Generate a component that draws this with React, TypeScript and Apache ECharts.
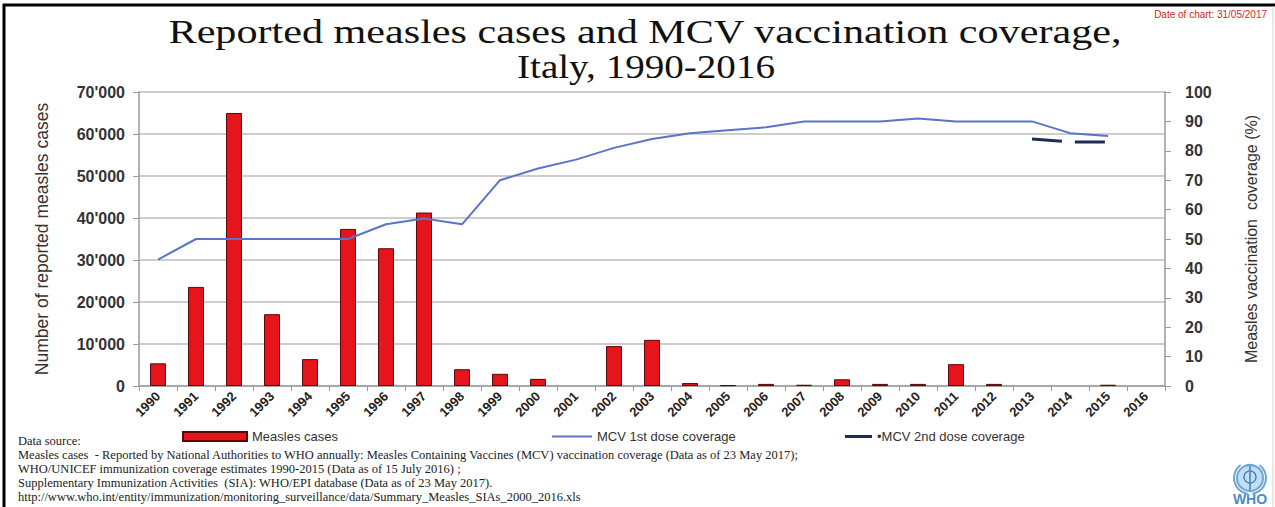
import React, { useEffect, useRef } from "react";
import * as echarts from "echarts";

const years = ["1990","1991","1992","1993","1994","1995","1996","1997","1998","1999","2000","2001","2002","2003","2004","2005","2006","2007","2008","2009","2010","2011","2012","2013","2014","2015","2016"];
const measlesCases = [5400, 23600, 65000, 17100, 6400, 37400, 32800, 41300, 4000, 2900, 1700, null, 9500, 11000, 700, 200, 500, 300, 1600, 500, 500, 5200, 500, null, null, 300, null];
const mcv1 = [43, 50, 50, 50, 50, 50, 55, 57, 55, 70, 74, 77, 81, 84, 86, 87, 88, 90, 90, 90, 91, 90, 90, 90, 86, 85, null];
const mcv2 = [null, null, null, null, null, null, null, null, null, null, null, null, null, null, null, null, null, null, null, null, null, null, null, 84, 83, 83, null];
const casesTicks = { min: 0, max: 70000, interval: 10000 };
const coverageTicks = { min: 0, max: 100, interval: 10 };
const titleLines = ["Reported measles cases and MCV vaccination coverage,", "Italy, 1990-2016"];
const sourceLines = [
  "Data source:",
  "Measles cases  - Reported by National Authorities to WHO annually: Measles Containing Vaccines (MCV) vaccination coverage (Data as of 23 May 2017);",
  "WHO/UNICEF immunization coverage estimates 1990-2015 (Data as of 15 July 2016) ;",
  "Supplementary Immunization Activities  (SIA): WHO/EPI database (Data as of 23 May 2017).",
  "http://www.who.int/entity/immunization/monitoring_surveillance/data/Summary_Measles_SIAs_2000_2016.xls",
];

const fmtThousands = (v: number) => {
  if (v === 0) return "0";
  const s = String(Math.round(v));
  return s.replace(/\B(?=(\d{3})+(?!\d))/g, "'");
};

export default function App() {
  const ref = useRef<HTMLDivElement>(null);
  useEffect(() => {
    if (!ref.current) return;
    const chart = echarts.init(ref.current, undefined, { renderer: "svg" });
    const sans = "Liberation Sans, Arial, sans-serif";
    const serif = "Liberation Serif, Times New Roman, serif";
    const legendText = { fontFamily: sans, fontSize: 13, color: "#333" };
    chart.setOption({
      animation: false,
      backgroundColor: "#ffffff",
      grid: { left: 139, right: 110, top: 92, bottom: 121, containLabel: false },
      legend: [
        {
          data: [{ name: "Measles cases", icon: "rect" }],
          left: 182, top: 430, padding: 0, itemWidth: 64, itemHeight: 9, itemGap: 4,
          textStyle: legendText,
        },
        {
          data: [{ name: "MCV 1st dose coverage", icon: "rect", itemStyle: { color: "#5b74c8" } }],
          left: 552, top: 430, padding: 0, itemWidth: 40, itemHeight: 2,
          textStyle: legendText,
        },
        {
          data: [{ name: "MCV 2nd dose coverage", icon: "rect", itemStyle: { color: "#1c2e54" } }],
          left: 845, top: 430, padding: 0, itemWidth: 27, itemHeight: 3,
          formatter: (n: string) => "\u2022" + n,
          textStyle: legendText,
        },
      ],
      xAxis: {
        type: "category",
        data: years,
        boundaryGap: true,
        axisLine: { lineStyle: { color: "#9a9a9a", width: 1.5 } },
        axisTick: { show: true, alignWithLabel: false, length: 5, lineStyle: { color: "#9a9a9a" } },
        axisLabel: { rotate: 45, interval: 0, fontFamily: sans, fontSize: 13, fontWeight: "bold", color: "#222", margin: 8 },
      },
      yAxis: [
        {
          type: "value",
          ...casesTicks,
          name: "Number of reported measles cases",
          nameLocation: "middle",
          nameRotate: 90,
          nameGap: 88,
          nameTextStyle: { fontFamily: sans, fontSize: 17.5, color: "#333" },
          axisLine: { show: true, lineStyle: { color: "#9a9a9a", width: 1.5 } },
          axisTick: { show: true, length: 6, lineStyle: { color: "#9a9a9a" } },
          splitLine: { show: true, lineStyle: { color: "#bdbdbd", width: 1.5 } },
          axisLabel: { formatter: fmtThousands, fontFamily: sans, fontSize: 16, fontWeight: "bold", color: "#333", margin: 14 },
        },
        {
          type: "value",
          ...coverageTicks,
          position: "right",
          name: "Measles vaccination  coverage (%)",
          nameLocation: "middle",
          nameRotate: 90,
          nameGap: 78,
          nameTextStyle: { fontFamily: sans, fontSize: 16, color: "#333" },
          axisLine: { show: true, lineStyle: { color: "#9a9a9a", width: 1.5 } },
          axisTick: { show: true, length: 6, lineStyle: { color: "#9a9a9a" } },
          splitLine: { show: false },
          axisLabel: { fontFamily: sans, fontSize: 16, fontWeight: "bold", color: "#333", margin: 20 },
        },
      ],
      series: [
        {
          name: "Measles cases",
          type: "bar",
          yAxisIndex: 0,
          data: measlesCases,
          barWidth: 16,
          itemStyle: { color: "#e8141c", borderColor: "#5a0808", borderWidth: 1 },
        },
        {
          name: "MCV 1st dose coverage",
          type: "line",
          yAxisIndex: 1,
          data: mcv1,
          symbol: "none",
          lineStyle: { color: "#5b74c8", width: 2 },
          itemStyle: { color: "#5b74c8" },
        },
        {
          name: "MCV 2nd dose coverage",
          type: "line",
          yAxisIndex: 1,
          data: mcv2,
          symbol: "none",
          lineStyle: { color: "#1c2e54", width: 3, type: [30, 13] },
          itemStyle: { color: "#1c2e54" },
        },
      ],
      graphic: [
        { type: "line", shape: { x1: 3, y1: 5, x2: 1275, y2: 5 }, style: { stroke: "#000", lineWidth: 3 } },
        { type: "line", shape: { x1: 4, y1: 4, x2: 4, y2: 507 }, style: { stroke: "#000", lineWidth: 3 } },
        { type: "line", shape: { x1: 1273, y1: 6, x2: 1273, y2: 507 }, style: { stroke: "#cfcfcf", lineWidth: 1 } },
        {
          type: "text", x: 645, y: 31, scaleX: 1.24,
          style: { text: titleLines[0], fontFamily: serif, fontSize: 34, fill: "#111", align: "center", verticalAlign: "middle" },
        },
        {
          type: "text", x: 646, y: 66, scaleX: 1.15,
          style: { text: titleLines[1], fontFamily: serif, fontSize: 34, fill: "#111", align: "center", verticalAlign: "middle" },
        },
        {
          type: "text", right: 8, top: 9,
          style: { text: "Date of chart: 31/05/2017", fontFamily: sans, fontSize: 10, fill: "#d02828" },
        },
        ...sourceLines.map((t, i) => ({
          type: "text",
          left: 18,
          top: 434 + i * 14,
          style: { text: t, fontFamily: serif, fontSize: 12.5, fill: "#222" },
        })),
        { type: "circle", shape: { cx: 1250, cy: 478, r: 13 }, style: { fill: "#c4ddf2", stroke: "#6aa5d8", lineWidth: 2 } },
        { type: "arc", shape: { cx: 1250, cy: 478, r: 16, startAngle: Math.PI * 0.55, endAngle: Math.PI * 1.3 }, style: { stroke: "#6aa5d8", lineWidth: 2, fill: "none" } },
        { type: "arc", shape: { cx: 1250, cy: 478, r: 16, startAngle: -Math.PI * 0.3, endAngle: Math.PI * 0.45 }, style: { stroke: "#6aa5d8", lineWidth: 2, fill: "none" } },
        { type: "line", shape: { x1: 1250, y1: 466, x2: 1250, y2: 490 }, style: { stroke: "#3f7fbf", lineWidth: 1.5 } },
        { type: "circle", shape: { cx: 1250, cy: 477, r: 6 }, style: { fill: "none", stroke: "#3f7fbf", lineWidth: 1.3 } },
        {
          type: "text", x: 1250, y: 499,
          style: { text: "WHO", fontFamily: sans, fontSize: 14, fontWeight: "bold", fill: "#4a8cc8", align: "center", verticalAlign: "middle" },
        },
      ],
    });
    return () => chart.dispose();
  }, []);
  return <div ref={ref} style={{ position: "fixed", left: 0, top: 0, width: 1275, height: 507 }} />;
}
